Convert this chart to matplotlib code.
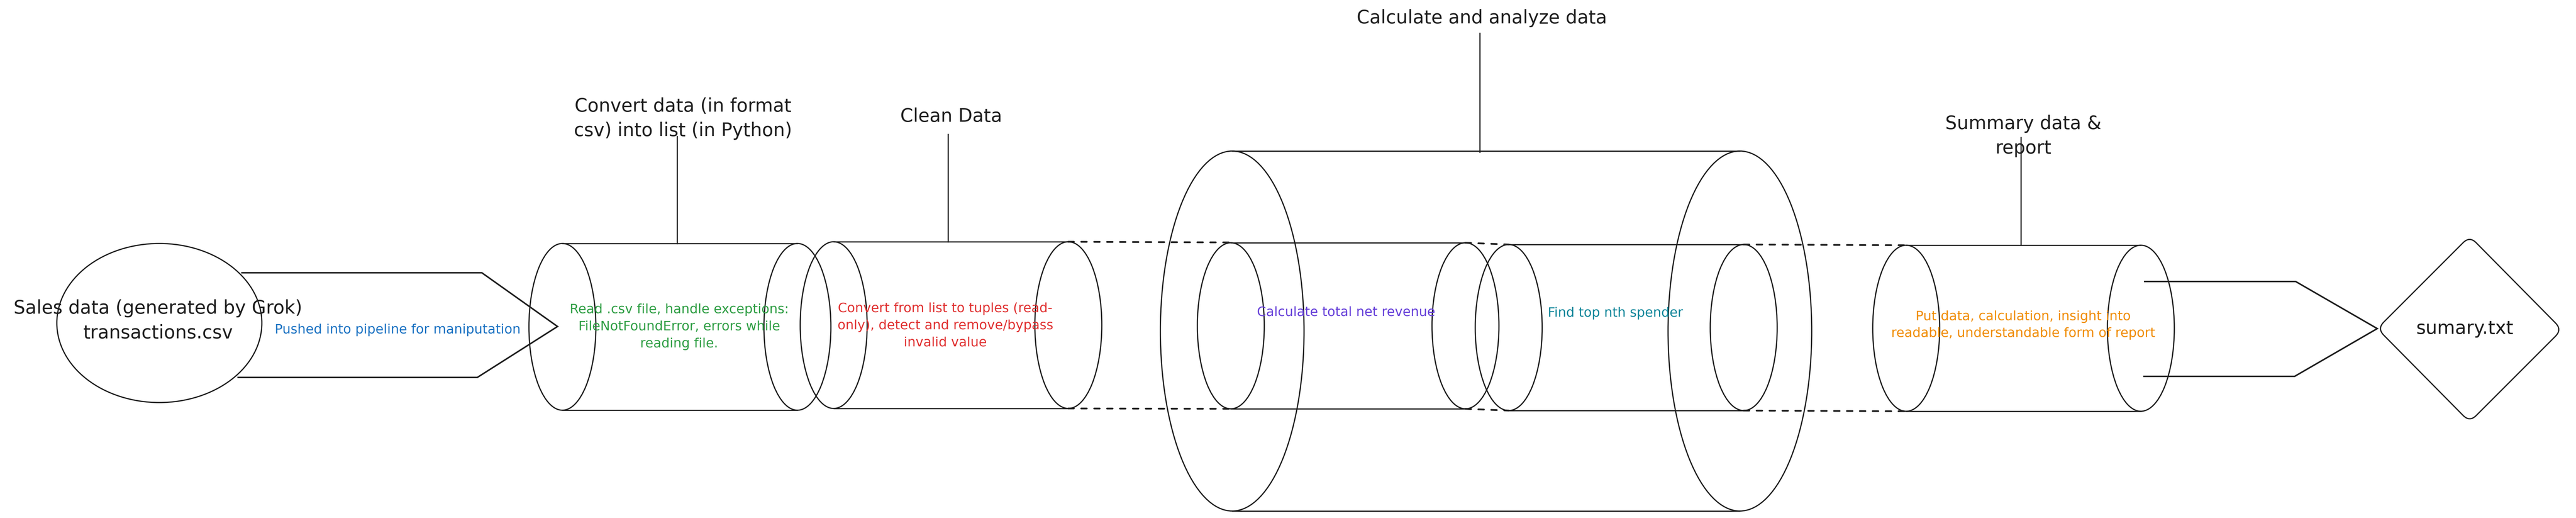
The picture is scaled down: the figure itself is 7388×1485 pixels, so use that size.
import numpy as np
import matplotlib
matplotlib.use("Agg")
import matplotlib.pyplot as plt
from matplotlib.patches import Ellipse, PathPatch
from matplotlib.path import Path

# ---------------- TEXTS ----------------
source_lines = ["Sales data (generated by Grok)", "transactions.csv"]
push_label = "Pushed into pipeline for maniputation"
stage_titles = ["Convert data (in format\ncsv) into list (in Python)",
                "Clean Data",
                "Calculate and analyze data",
                "Summary data &\nreport"]
stage_notes = ["Read .csv file, handle exceptions:\nFileNotFoundError, errors while\nreading file.",
               "Convert from list to tuples (read-\nonly), detect and remove/bypass\ninvalid value",
               "Calculate total net revenue",
               "Find top nth spender",
               "Put data, calculation, insight into\nreadable, understandable form of report"]
note_colors = ["#2f9e44", "#e03131", "#6741d9", "#0c8599", "#f08c00"]
output_label = "sumary.txt"

# ---------------- LAYOUT (pixels) ----------------
W, H = 7388, 1485
INK = "#1e1e1e"
LW = 2.5
TITLE_FS = 38
NOTE_FS = 27
SPACING = 1.45

# cylinders: (x left cap, x right cap, y centre, half width of cap, half height)
cylinders = [(1613, 2287, 937, 96, 239),
             (2391, 3064, 932, 96, 239),
             (3534, 4990, 949, 206, 516),
             (3530, 4203, 934, 96, 238),
             (4327, 5001, 939, 96, 238),
             (5467, 6140, 941, 96, 238)]

fig = plt.figure(figsize=(W / 100, H / 100), dpi=100)
ax = fig.add_axes([0, 0, 1, 1])
ax.set_xlim(0, W)
ax.set_ylim(H, 0)
ax.axis("off")


def cylinder(xl, xr, yc, a, b):
    for xc in (xl, xr):
        ax.add_patch(Ellipse((xc, yc), 2 * a, 2 * b, fill=False, ec=INK, lw=LW))
    ax.plot([xl, xr], [yc - b, yc - b], color=INK, lw=LW, solid_capstyle="round")
    ax.plot([xl, xr], [yc + b, yc + b], color=INK, lw=LW, solid_capstyle="round")


def dashed(x0, y0, x1, y1):
    ax.plot([x0, x1], [y0, y1], color=INK, lw=3.6, dashes=(3.2, 4.2),
            dash_capstyle="round")


def rounded_poly(pts, r=0.07):
    # polygon with soft corners (quadratic curves)
    n = len(pts)
    verts, codes = [], []
    for i in range(n):
        p0 = np.array(pts[i - 1], float)
        p1 = np.array(pts[i], float)
        p2 = np.array(pts[(i + 1) % n], float)
        a = p1 + (p0 - p1) * r
        c = p1 + (p2 - p1) * r
        verts.append(a)
        codes.append(Path.MOVETO if i == 0 else Path.LINETO)
        verts += [p1, c]
        codes += [Path.CURVE3, Path.CURVE3]
    verts.append(verts[0])
    codes.append(Path.CLOSEPOLY)
    return Path(verts, codes)


# source ellipse + arrow
ax.add_patch(Ellipse((457, 926), 588, 456, fill=False, ec=INK, lw=LW))
ax.plot([694, 1382, 1599, 1369, 683], [782, 782, 936, 1082, 1082],
        color=INK, lw=LW + 0.6, solid_joinstyle="miter")
for line, ly in zip(source_lines, [884, 955]):
    ax.text(453, ly, line, ha="center", va="center", fontsize=TITLE_FS, color=INK)
ax.text(1140, 946, push_label, ha="center", va="center", fontsize=NOTE_FS,
        color="#1971c2")

# pipeline
for cyl in cylinders:
    cylinder(*cyl)

dashed(3064, 693, 3530, 695)
dashed(3064, 1171, 3530, 1172)
dashed(4203, 696, 4327, 701)
dashed(4203, 1172, 4327, 1177)
dashed(5001, 701, 5467, 703)
dashed(5001, 1177, 5467, 1179)

# stage titles with their leader lines
title_pos = [(1959, 340), (2728, 334), (4250, 52), (5803, 390)]
leaders = [(1942, 391, 698), (2719, 385, 693), (4244, 95, 436), (5796, 394, 703)]
for t, (tx, ty), (lx, y0, y1) in zip(stage_titles, title_pos, leaders):
    ax.text(tx, ty, t, ha="center", va="center", fontsize=TITLE_FS, color=INK,
            linespacing=SPACING)
    ax.plot([lx, lx], [y0, y1], color=INK, lw=LW)

note_pos = [(1948, 937), (2711, 934), (3861, 895), (4633, 898), (5803, 932)]
for t, c, (nx, ny) in zip(stage_notes, note_colors, note_pos):
    ax.text(nx, ny, t, ha="center", va="center", fontsize=NOTE_FS, color=c,
            linespacing=SPACING)

# output arrow + diamond
ax.plot([6151, 6584, 6818, 6581, 6149], [807, 807, 942, 1079, 1079],
        color=INK, lw=LW + 0.6, solid_joinstyle="miter")
diamond = rounded_poly([(6818, 942), (7083, 677), (7348, 945), (7083, 1210)])
ax.add_patch(PathPatch(diamond, fill=False, ec=INK, lw=LW))
ax.text(7069, 942, output_label, ha="center", va="center", fontsize=TITLE_FS,
        color=INK)

fig.savefig("out.png", dpi=100, facecolor="white")
